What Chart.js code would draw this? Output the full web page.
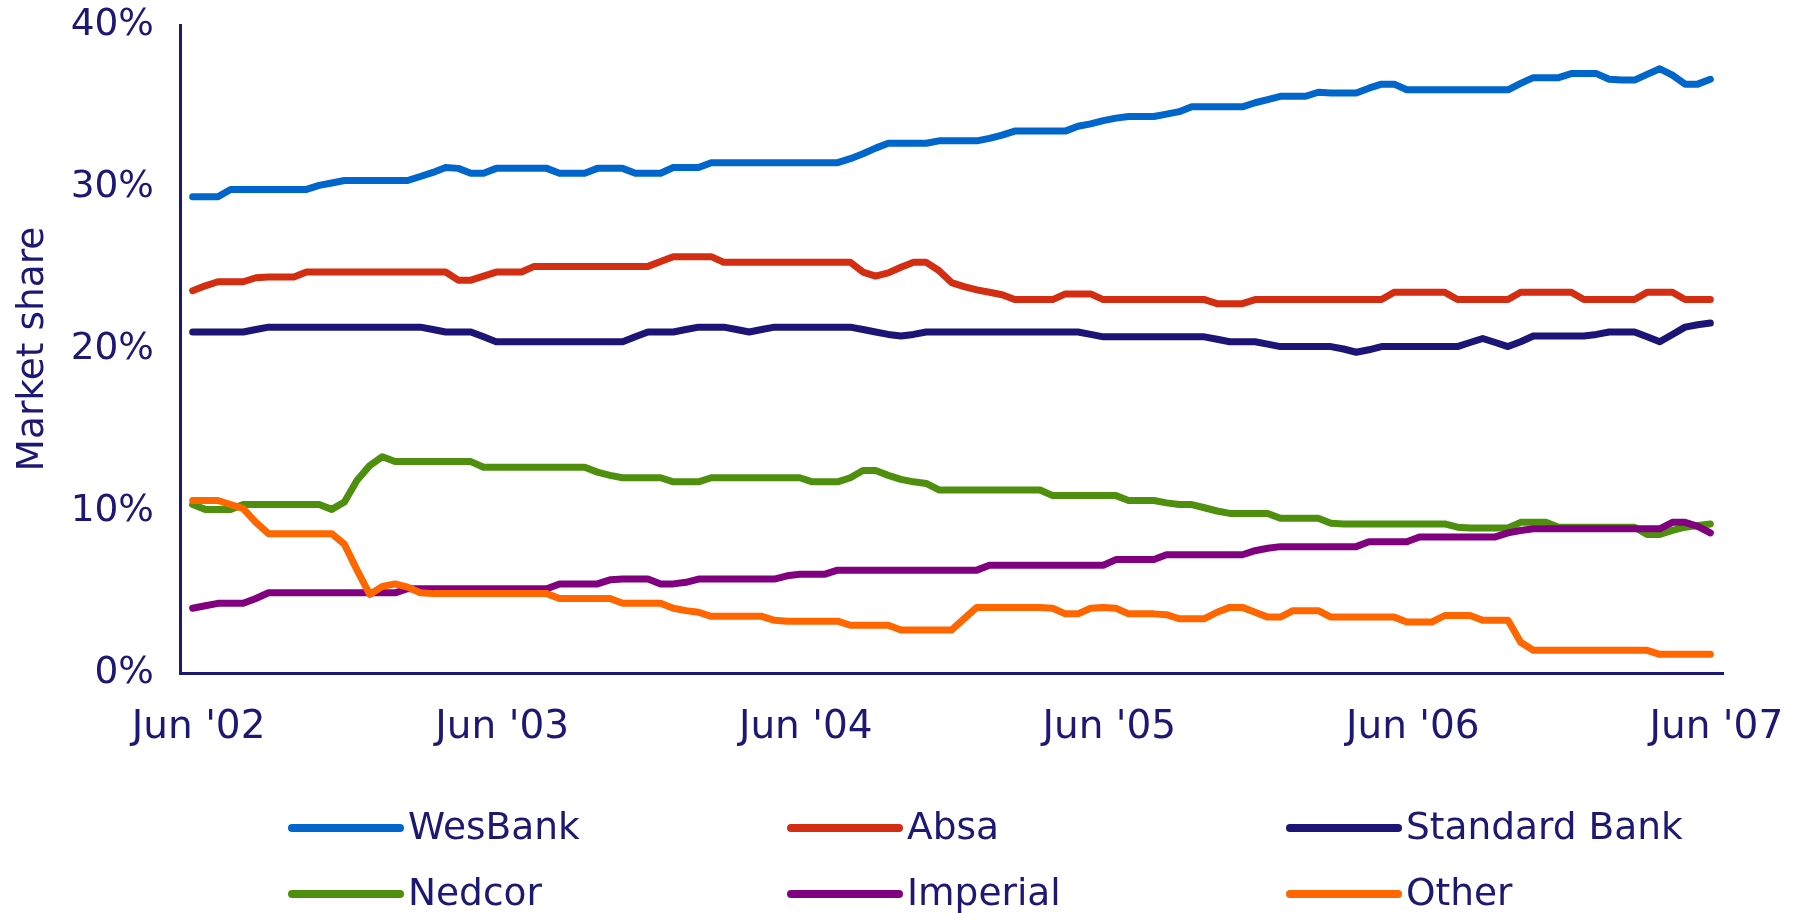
<!DOCTYPE html>
<html>
<head>
<meta charset="utf-8">
<title>Market share</title>
<script src="https://cdn.jsdelivr.net/npm/chart.js@4/dist/chart.umd.min.js"></script>
<style>
  html, body { margin: 0; padding: 0; background: #ffffff; overflow: hidden; }
  canvas { display: block; }
</style>
</head>
<body>
<canvas id="chart" width="1794" height="913"></canvas>
<script>
// Half-monthly observations, Jun 2002 to Jun 2007 (index 0 = Jun '02).
const tickIndex = [0, 24, 48, 72, 96, 120];
const tickLabels = ["Jun '02", "Jun '03", "Jun '04", "Jun '05", "Jun '06", "Jun '07"];

const seriesNames = ['WesBank', 'Absa', 'Standard Bank', 'Nedcor', 'Imperial', 'Other'];
const seriesColors = ['#0066cc', '#d42e12', '#1c1577', '#4f8f0e', '#800080', '#ff6600'];

const wesbank = [
  29.4, 29.4, 29.4, 29.85, 29.85, 29.85, 29.85, 29.85, 29.85, 29.85,
  30.1, 30.25, 30.4, 30.4, 30.4, 30.4, 30.4, 30.4, 30.65, 30.9,
  31.2, 31.15, 30.85, 30.85, 31.15, 31.15, 31.15, 31.15, 31.15, 30.85,
  30.85, 30.85, 31.15, 31.15, 31.15, 30.85, 30.85, 30.85, 31.2, 31.2,
  31.2, 31.5, 31.5, 31.5, 31.5, 31.5, 31.5, 31.5, 31.5, 31.5,
  31.5, 31.5, 31.75, 32.05, 32.4, 32.7, 32.7, 32.7, 32.7, 32.85,
  32.85, 32.85, 32.85, 33.0, 33.2, 33.45, 33.45, 33.45, 33.45, 33.45,
  33.75, 33.9, 34.1, 34.25, 34.35, 34.35, 34.35, 34.5, 34.65, 34.95,
  34.95, 34.95, 34.95, 34.95, 35.2, 35.4, 35.6, 35.6, 35.6, 35.85,
  35.8, 35.8, 35.8, 36.1, 36.35, 36.35, 36.0, 36.0, 36.0, 36.0,
  36.0, 36.0, 36.0, 36.0, 36.0, 36.4, 36.75, 36.75, 36.75, 37.0,
  37.0, 37.0, 36.65, 36.6, 36.6, 36.95, 37.3, 36.9, 36.35, 36.35,
  36.65
];

const absa = [
  23.6, 23.9, 24.15, 24.15, 24.15, 24.4, 24.45, 24.45, 24.45, 24.75,
  24.75, 24.75, 24.75, 24.75, 24.75, 24.75, 24.75, 24.75, 24.75, 24.75,
  24.75, 24.25, 24.25, 24.5, 24.75, 24.75, 24.75, 25.1, 25.1, 25.1,
  25.1, 25.1, 25.1, 25.1, 25.1, 25.1, 25.1, 25.4, 25.7, 25.7,
  25.7, 25.7, 25.35, 25.35, 25.35, 25.35, 25.35, 25.35, 25.35, 25.35,
  25.35, 25.35, 25.35, 24.75, 24.5, 24.7, 25.05, 25.35, 25.35, 24.85,
  24.1, 23.85, 23.65, 23.5, 23.35, 23.05, 23.05, 23.05, 23.05, 23.4,
  23.4, 23.4, 23.05, 23.05, 23.05, 23.05, 23.05, 23.05, 23.05, 23.05,
  23.05, 22.8, 22.8, 22.8, 23.05, 23.05, 23.05, 23.05, 23.05, 23.05,
  23.05, 23.05, 23.05, 23.05, 23.05, 23.5, 23.5, 23.5, 23.5, 23.5,
  23.05, 23.05, 23.05, 23.05, 23.05, 23.5, 23.5, 23.5, 23.5, 23.5,
  23.05, 23.05, 23.05, 23.05, 23.05, 23.5, 23.5, 23.5, 23.05, 23.05,
  23.05
];

const standardBank = [
  21.05, 21.05, 21.05, 21.05, 21.05, 21.2, 21.35, 21.35, 21.35, 21.35,
  21.35, 21.35, 21.35, 21.35, 21.35, 21.35, 21.35, 21.35, 21.35, 21.2,
  21.05, 21.05, 21.05, 20.75, 20.45, 20.45, 20.45, 20.45, 20.45, 20.45,
  20.45, 20.45, 20.45, 20.45, 20.45, 20.75, 21.05, 21.05, 21.05, 21.2,
  21.35, 21.35, 21.35, 21.2, 21.05, 21.2, 21.35, 21.35, 21.35, 21.35,
  21.35, 21.35, 21.35, 21.2, 21.05, 20.9, 20.8, 20.9, 21.05, 21.05,
  21.05, 21.05, 21.05, 21.05, 21.05, 21.05, 21.05, 21.05, 21.05, 21.05,
  21.05, 20.9, 20.75, 20.75, 20.75, 20.75, 20.75, 20.75, 20.75, 20.75,
  20.75, 20.6, 20.45, 20.45, 20.45, 20.3, 20.15, 20.15, 20.15, 20.15,
  20.15, 20.0, 19.8, 19.95, 20.15, 20.15, 20.15, 20.15, 20.15, 20.15,
  20.15, 20.4, 20.65, 20.4, 20.15, 20.45, 20.8, 20.8, 20.8, 20.8,
  20.8, 20.9, 21.05, 21.05, 21.05, 20.75, 20.45, 20.9, 21.35, 21.5,
  21.6
];

const nedcor = [
  10.4, 10.1, 10.1, 10.1, 10.4, 10.4, 10.4, 10.4, 10.4, 10.4,
  10.4, 10.1, 10.55, 11.9, 12.8, 13.35, 13.05, 13.05, 13.05, 13.05,
  13.05, 13.05, 13.05, 12.7, 12.7, 12.7, 12.7, 12.7, 12.7, 12.7,
  12.7, 12.7, 12.4, 12.2, 12.05, 12.05, 12.05, 12.05, 11.8, 11.8,
  11.8, 12.05, 12.05, 12.05, 12.05, 12.05, 12.05, 12.05, 12.05, 11.8,
  11.8, 11.8, 12.05, 12.5, 12.5, 12.2, 11.95, 11.8, 11.7, 11.3,
  11.3, 11.3, 11.3, 11.3, 11.3, 11.3, 11.3, 11.3, 10.95, 10.95,
  10.95, 10.95, 10.95, 10.95, 10.65, 10.65, 10.65, 10.5, 10.4, 10.4,
  10.2, 10.0, 9.85, 9.85, 9.85, 9.85, 9.55, 9.55, 9.55, 9.55,
  9.25, 9.2, 9.2, 9.2, 9.2, 9.2, 9.2, 9.2, 9.2, 9.2,
  9.0, 8.95, 8.95, 8.95, 8.95, 9.3, 9.3, 9.3, 9.0, 9.0,
  9.0, 9.0, 9.0, 9.0, 9.0, 8.55, 8.55, 8.8, 9.0, 9.1,
  9.2
];

const imperial = [
  4.0, 4.15, 4.3, 4.3, 4.3, 4.6, 4.95, 4.95, 4.95, 4.95,
  4.95, 4.95, 4.95, 4.95, 4.95, 4.95, 4.95, 5.2, 5.2, 5.2,
  5.2, 5.2, 5.2, 5.2, 5.2, 5.2, 5.2, 5.2, 5.2, 5.5,
  5.5, 5.5, 5.5, 5.75, 5.8, 5.8, 5.8, 5.5, 5.5, 5.6,
  5.8, 5.8, 5.8, 5.8, 5.8, 5.8, 5.8, 6.0, 6.1, 6.1,
  6.1, 6.35, 6.35, 6.35, 6.35, 6.35, 6.35, 6.35, 6.35, 6.35,
  6.35, 6.35, 6.35, 6.65, 6.65, 6.65, 6.65, 6.65, 6.65, 6.65,
  6.65, 6.65, 6.65, 7.0, 7.0, 7.0, 7.0, 7.3, 7.3, 7.3,
  7.3, 7.3, 7.3, 7.3, 7.55, 7.7, 7.8, 7.8, 7.8, 7.8,
  7.8, 7.8, 7.8, 8.1, 8.1, 8.1, 8.1, 8.4, 8.4, 8.4,
  8.4, 8.4, 8.4, 8.4, 8.65, 8.8, 8.9, 8.9, 8.9, 8.9,
  8.9, 8.9, 8.9, 8.9, 8.9, 8.9, 8.9, 9.3, 9.3, 9.05,
  8.65
];

const other = [
  10.65, 10.65, 10.65, 10.4, 10.15, 9.3, 8.6, 8.6, 8.6, 8.6,
  8.6, 8.6, 7.95, 6.35, 4.85, 5.35, 5.5, 5.3, 4.95, 4.9,
  4.9, 4.9, 4.9, 4.9, 4.9, 4.9, 4.9, 4.9, 4.9, 4.6,
  4.6, 4.6, 4.6, 4.6, 4.3, 4.3, 4.3, 4.3, 4.0, 3.85,
  3.75, 3.5, 3.5, 3.5, 3.5, 3.5, 3.25, 3.2, 3.2, 3.2,
  3.2, 3.2, 2.95, 2.95, 2.95, 2.95, 2.65, 2.65, 2.65, 2.65,
  2.65, 3.35, 4.05, 4.05, 4.05, 4.05, 4.05, 4.05, 4.0, 3.65,
  3.65, 4.0, 4.05, 4.0, 3.65, 3.65, 3.65, 3.6, 3.35, 3.35,
  3.35, 3.75, 4.05, 4.05, 3.75, 3.45, 3.45, 3.85, 3.85, 3.85,
  3.45, 3.45, 3.45, 3.45, 3.45, 3.45, 3.15, 3.15, 3.15, 3.55,
  3.55, 3.55, 3.25, 3.25, 3.25, 1.9, 1.4, 1.4, 1.4, 1.4,
  1.4, 1.4, 1.4, 1.4, 1.4, 1.4, 1.15, 1.15, 1.15, 1.15,
  1.15
];

const seriesValues = [wesbank, absa, standardBank, nedcor, imperial, other];

const INK = '#1d1873';
const FONT = "'DejaVu Sans', Verdana, sans-serif";
Chart.defaults.font.family = FONT;
Chart.defaults.font.size = 37.5;
Chart.defaults.color = INK;

// Two-row, three-column legend below the plot.
const gridLegend = {
  id: 'gridLegend',
  afterDraw(chart) {
    const ctx = chart.ctx;
    ctx.save();
    ctx.font = '37.5px ' + FONT;
    ctx.textBaseline = 'middle';
    ctx.textAlign = 'left';
    chart.data.datasets.forEach((ds, i) => {
      const col = i % 3;
      const row = Math.floor(i / 3);
      const x = 292 + col * 499;
      const y = 828 + row * 66;
      ctx.strokeStyle = ds.borderColor;
      ctx.lineWidth = 8;
      ctx.lineCap = 'round';
      ctx.beginPath();
      ctx.moveTo(x, y);
      ctx.lineTo(x + 108, y);
      ctx.stroke();
      ctx.fillStyle = INK;
      ctx.fillText(ds.label, x + 116, y + 1);
    });
    ctx.restore();
  }
};

// Keep the plot frame fixed: tick labels may overhang the frame edges.
function noEdgePadding(scale) {
  scale.paddingTop = 0;
  scale.paddingBottom = 0;
  scale.paddingLeft = 0;
  scale.paddingRight = 0;
}

new Chart(document.getElementById('chart'), {
  type: 'line',
  data: {
    datasets: seriesNames.map((name, i) => ({
      label: name,
      data: seriesValues[i].map((v, k) => ({ x: k, y: v })),
      borderColor: seriesColors[i],
      backgroundColor: seriesColors[i],
      borderWidth: 7,
      pointRadius: 0,
      pointHoverRadius: 0,
      tension: 0,
      fill: false,
      borderCapStyle: 'round',
      borderJoinStyle: 'round',
      order: seriesNames.length - i
    }))
  },
  options: {
    responsive: false,
    animation: false,
    devicePixelRatio: 1,
    layout: { padding: { left: 0, top: 25, right: 71, bottom: 160 } },
    plugins: {
      legend: { display: false },
      tooltip: { enabled: false }
    },
    scales: {
      x: {
        type: 'linear',
        min: -1,
        max: 121,
        afterBuildTicks: (scale) => { scale.ticks = tickIndex.map(v => ({ value: v })); },
        afterFit: (scale) => { scale.height = 80; noEdgePadding(scale); },
        ticks: {
          autoSkip: false,
          maxRotation: 0,
          padding: 31,
          labelOffset: 6,
          color: INK,
          font: { size: 39 },
          callback: (v) => tickLabels[tickIndex.indexOf(v)]
        },
        grid: { display: false, drawTicks: false },
        border: { display: true, color: INK, width: 3 }
      },
      y: {
        min: 0,
        max: 40,
        afterFit: (scale) => { scale.width = 180; noEdgePadding(scale); },
        ticks: {
          stepSize: 10,
          padding: 26,
          color: INK,
          font: { size: 37.5 },
          callback: (v) => v + '%'
        },
        grid: { display: false, drawTicks: false },
        border: { display: true, color: INK, width: 3 },
        title: {
          display: true,
          text: 'Market share',
          color: INK,
          font: { size: 37.5 },
          padding: { top: 11, bottom: 0 }
        }
      }
    }
  },
  plugins: [gridLegend]
});
</script>
</body>
</html>
